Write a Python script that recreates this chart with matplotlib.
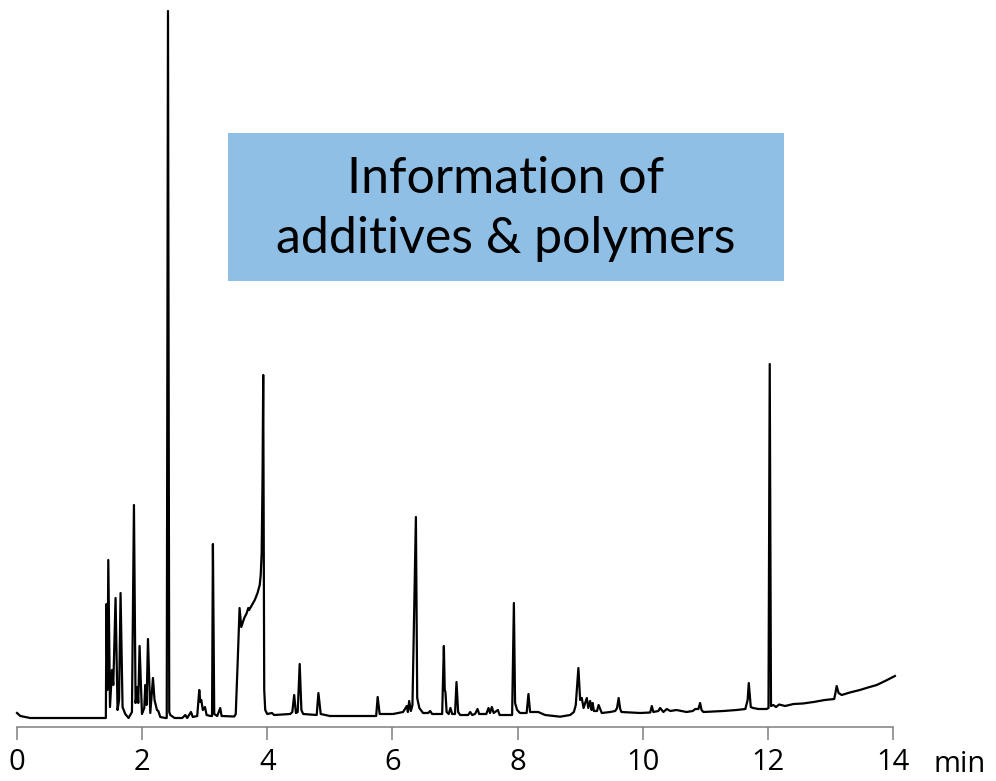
import matplotlib.pyplot as plt
from matplotlib.patches import Rectangle

# Chromatogram trace (retention time in min, detector response in a.u.)
time_min = [
    0.00, 0.053, 0.21, 1.28, 1.42, 1.43, 1.446, 1.459, 1.486, 1.518, 1.539, 1.575, 1.607, 1.631,
    1.655, 1.687, 1.73, 1.783, 1.837, 1.869, 1.895, 1.922, 1.938, 1.959, 1.997, 2.034, 2.05,
    2.071, 2.093, 2.13, 2.173, 2.198, 2.237, 2.258, 2.29, 2.37, 2.393, 2.413, 2.433, 2.45, 2.518,
    2.64, 2.69, 2.72, 2.78, 2.81, 2.88, 2.913, 2.93, 2.945, 2.97, 3.004, 3.03, 3.09,
    3.117, 3.131, 3.152, 3.2, 3.248, 3.27, 3.472,
    3.496, 3.528, 3.557, 3.584, 3.632, 3.672, 3.696, 3.71, 3.755, 3.80, 3.844, 3.879, 3.895,
    3.91, 3.924, 3.935, 3.951, 3.967, 3.999,
    4.074, 4.11, 4.367, 4.40, 4.43, 4.457, 4.486, 4.518, 4.545, 4.574, 4.79, 4.817, 4.854, 5.0,
    5.32, 5.74, 5.764, 5.796, 6.01, 6.17, 6.23, 6.247, 6.268, 6.295, 6.32, 6.375, 6.396, 6.43,
    6.49, 6.57, 6.603, 6.635, 6.795, 6.822, 6.836, 6.847, 6.866, 6.90, 6.927, 6.955, 7.0, 7.024,
    7.05, 7.083, 7.21, 7.243, 7.275, 7.32, 7.36, 7.386, 7.5, 7.535, 7.56, 7.589, 7.618, 7.685,
    7.713, 7.913, 7.941, 7.96, 7.993, 8.04, 8.145, 8.174, 8.2, 8.33, 8.44, 8.68, 8.84, 8.90,
    8.93, 8.972, 9.0, 9.026, 9.055, 9.08, 9.107, 9.13, 9.16, 9.183, 9.20, 9.22, 9.27, 9.295,
    9.346, 9.48, 9.56, 9.59, 9.615, 9.64, 9.66, 9.96, 10.12, 10.145, 10.17, 10.25, 10.278,
    10.33, 10.385, 10.44, 10.54, 10.70, 10.80, 10.84, 10.89, 10.917, 10.94, 10.97, 11.29, 11.5,
    11.64, 11.677, 11.695, 11.727, 11.764, 11.85, 11.98, 12.01, 12.03, 12.05, 12.088, 12.13,
    12.18, 12.275, 12.41, 12.56, 12.73, 12.91, 13.06, 13.08, 13.10, 13.13, 13.18, 13.31, 13.47,
    13.60, 13.74, 13.89, 14.03,
]
response = [
    14, 11, 9, 9, 9, 123, 37, 167, 20, 57, 42, 129, 17, 27,
    134, 20, 13, 9, 15, 222, 24, 40, 24, 81, 13, 19, 42,
    22, 88, 14, 49, 27, 17, 16, 10, 9, 9, 716, 15, 12, 9,
    9, 12, 9, 15, 10, 11, 37, 25, 27, 17, 20, 12, 11,
    11, 183, 13, 11, 19, 11, 10.5,
    13, 67, 119, 100, 109, 114, 119, 117, 122, 127, 134, 142, 152,
    174, 247, 352, 37, 17, 13,
    14, 12, 13, 15, 32, 14, 15, 63, 17, 13, 12, 34, 13, 11,
    11, 11, 30, 13, 13, 15, 21, 15, 26, 16, 22, 210, 29, 19,
    14, 14, 16, 13, 13, 81, 37, 35, 15, 13, 19, 13, 13, 45,
    15, 12, 12, 15, 12, 13, 18, 13, 13, 19, 14, 20, 14, 17,
    12, 12, 124, 24, 17, 14, 14, 33, 15, 15, 12, 10.3, 12, 15,
    22, 59, 27, 29, 19, 24, 29, 19, 26, 17, 24, 16, 16, 22,
    14, 15, 16, 19, 29, 18, 15, 14, 14.5, 21, 15, 16, 19,
    15, 18, 16, 17, 15, 16, 18, 18, 24, 17, 15, 16, 17,
    18, 27, 44, 20, 19, 18, 18, 19, 363, 21, 22, 20,
    22.5, 21, 23, 23.5, 25, 27, 28, 34, 41, 34, 32, 34.5, 37,
    39.5, 42, 46.5, 51,
]
tick_values = [0, 2, 4, 6, 8, 10, 12, 14]
tick_labels = ["0", "2", "4", "6", "8", "10", "12", "14"]
unit_label = "min"
box_text = "Information of\nadditives & polymers"

W, H = 996, 781
fig = plt.figure(figsize=(W / 100, H / 100), dpi=100)
ax = fig.add_axes([17 / W, (H - 727) / H, (893 - 17) / W, 727 / H])

ax.plot(time_min, response, color="black", lw=1.6, solid_joinstyle="round", clip_on=False)
ax.set_xlim(0, 14)
ax.set_ylim(0, 727)

for side in ["left", "right", "top"]:
    ax.spines[side].set_visible(False)
ax.spines["bottom"].set_color("#7f7f7f")
ax.spines["bottom"].set_linewidth(1.1)
ax.set_yticks([])
ax.set_xticks(tick_values)
ax.set_xticklabels(tick_labels, fontsize=21, family="Open Sans")
ax.tick_params(axis="x", direction="out", length=9, width=1.1, color="#7f7f7f", pad=6)
ax.text(14.64, -37, unit_label, fontsize=21, family="Open Sans", ha="left", va="center",
        clip_on=False)

# annotation box
fig.patches.append(Rectangle((228 / W, 1 - 281 / H), 556 / W, 148 / H,
                             transform=fig.transFigure, facecolor="#8fbfe5",
                             edgecolor="none", zorder=0))
fig.text(506 / W, 1 - 209 / H, box_text, ha="center", va="center", fontsize=36,
         family="Lato", linespacing=1.4)

fig.savefig("out.png", dpi=100)
